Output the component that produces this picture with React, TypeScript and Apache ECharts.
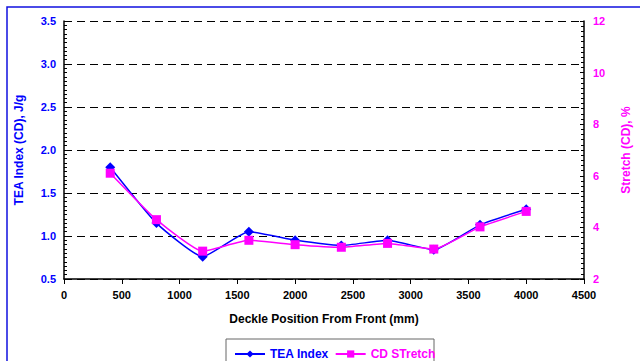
import React, { useEffect, useRef } from "react";
import * as echarts from "echarts";

const positions = [400, 800, 1200, 1600, 2000, 2400, 2800, 3200, 3600, 4000];
const teaIndex = [1.8, 1.15, 0.76, 1.05, 0.95, 0.89, 0.95, 0.84, 1.13, 1.31];
const cdStretch = [6.1, 4.3, 3.08, 3.5, 3.33, 3.23, 3.38, 3.16, 4.02, 4.62];

const BLUE = "#0000FF";
const MAGENTA = "#FF00FF";
const FONT = "Liberation Sans, Arial, sans-serif";

export default function App() {
  const ref = useRef<HTMLDivElement>(null);
  useEffect(() => {
    if (!ref.current) return;
    const chart = echarts.init(ref.current, null, { renderer: "svg" });
    chart.setOption({
      animation: false,
      backgroundColor: "#fff",
      textStyle: { fontFamily: FONT },
      grid: { left: 64, right: 42, top: 21, bottom: 82 },
      legend: {
        left: 229,
        top: 343,
        itemWidth: 30,
        itemHeight: 9,
        itemGap: 6,
        textStyle: { fontWeight: "bold", fontSize: 12, fontFamily: FONT },
        data: [
          { name: "TEA Index", textStyle: { color: BLUE } },
          { name: "CD STretch", textStyle: { color: MAGENTA } },
        ],
      },
      graphic: [
        {
          type: "rect",
          shape: { x: 7, y: 7, width: 700, height: 400 },
          style: { fill: "none", stroke: "#1010E0", lineWidth: 1.5 },
          silent: true,
        },
        {
          type: "rect",
          shape: { x: 226, y: 339, width: 208, height: 40 },
          style: { fill: "none", stroke: "#666", lineWidth: 1 },
          silent: true,
        },
      ],
      xAxis: {
        type: "value",
        min: 0,
        max: 4500,
        interval: 500,
        name: "Deckle Position From Front (mm)",
        nameLocation: "middle",
        nameGap: 34,
        nameTextStyle: { color: "#000", fontWeight: "bold", fontSize: 12, fontFamily: FONT },
        axisLine: { show: true, lineStyle: { color: "#000", width: 1.5 } },
        axisTick: { show: true, length: 5, lineStyle: { color: "#000" } },
        axisLabel: {
          color: "#000",
          fontWeight: "bold",
          fontSize: 11,
          margin: 10,
          fontFamily: FONT,
          formatter: (v: number) => String(v),
        },
        splitLine: { show: false },
      },
      yAxis: [
        {
          type: "value",
          min: 0.5,
          max: 3.5,
          interval: 0.5,
          name: "TEA Index (CD), J/g",
          nameLocation: "middle",
          nameGap: 39,
          nameTextStyle: { color: BLUE, fontWeight: "bold", fontSize: 12, fontFamily: FONT },
          axisLine: { show: true, lineStyle: { color: "#000", width: 1.5 } },
          axisTick: { show: true, inside: true, length: 4, lineStyle: { color: "#000" } },
          minorTick: { show: true, splitNumber: 10, length: 3, lineStyle: { color: "#000" } },
          axisLabel: {
            color: BLUE,
            fontWeight: "bold",
            fontSize: 11,
            margin: 8,
            fontFamily: FONT,
            formatter: (v: number) => v.toFixed(1),
          },
          splitLine: { show: true, lineStyle: { color: "#000", type: [8, 5], width: 1 } },
        },
        {
          type: "value",
          min: 2,
          max: 12,
          interval: 2,
          name: "Stretch (CD), %",
          nameLocation: "middle",
          nameGap: 36,
          nameTextStyle: { color: MAGENTA, fontWeight: "bold", fontSize: 12, fontFamily: FONT },
          axisLine: { show: true, lineStyle: { color: "#000", width: 1.5 } },
          axisTick: { show: true, inside: true, length: 4, lineStyle: { color: "#000" } },
          minorTick: { show: true, splitNumber: 10, length: 3, lineStyle: { color: "#000" } },
          axisLabel: { color: MAGENTA, fontWeight: "bold", fontSize: 11, margin: 9, fontFamily: FONT },
          splitLine: { show: false },
        },
      ],
      series: [
        {
          name: "TEA Index",
          type: "line",
          yAxisIndex: 0,
          data: positions.map((p, i) => [p, teaIndex[i]]),
          smooth: 0.15,
          symbol: "diamond",
          symbolSize: 10,
          itemStyle: { color: BLUE },
          lineStyle: { color: BLUE, width: 1.5 },
          z: 3,
        },
        {
          name: "CD STretch",
          type: "line",
          yAxisIndex: 1,
          data: positions.map((p, i) => [p, cdStretch[i]]),
          smooth: 0.15,
          symbol: "rect",
          symbolSize: 9,
          itemStyle: { color: MAGENTA },
          lineStyle: { color: MAGENTA, width: 1.5 },
          z: 4,
        },
      ],
    });
    return () => chart.dispose();
  }, []);
  return (
    <div
      ref={ref}
      style={{ position: "absolute", left: 0, top: 0, width: 640, height: 361 }}
    />
  );
}
